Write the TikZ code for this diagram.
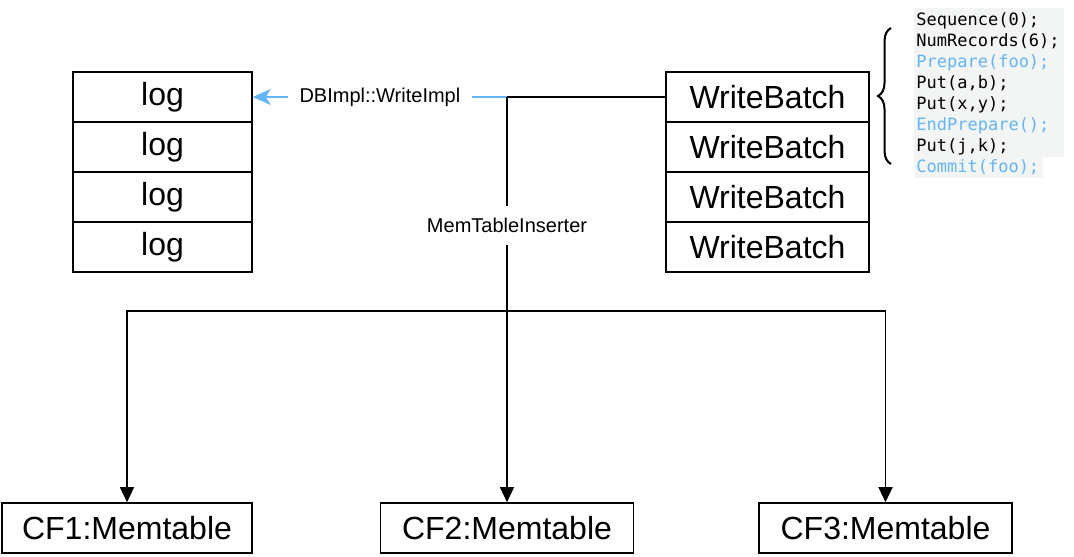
\documentclass[tikz,border=0pt]{standalone}
\usepackage{fontspec}
\setmainfont{Liberation Sans}
\setmonofont{DejaVu Sans Mono}
\usepackage{tikz}
\usetikzlibrary{arrows.meta}
\usetikzlibrary{decorations.pathreplacing}
\definecolor{lightblue}{RGB}{100,181,246}
\definecolor{codebg}{RGB}{243,244,244}

\begin{document}
\begin{tikzpicture}[x=0.5pt,y=-0.5pt,
  box/.style={draw, line width=0.8pt, minimum height=25pt, inner sep=0pt, font=\fontsize{16}{19}\selectfont},
  tag/.style={fill=white, inner sep=6pt, font=\fontsize{10}{12}\selectfont}]
\useasboundingbox (0,0) rectangle (1074,556);
\foreach \i in {1,...,4} {
  \node[box, minimum width=89.5pt] (log\i) at (162.5, 47+50*\i) {log};
  \node[box, minimum width=101.5pt] (wb\i) at (767.5, 47+50*\i) {WriteBatch};
}
\node[box, minimum width=125pt] (cf1) at (127,528) {CF1:Memtable};
\node[box, minimum width=126.5pt] (cf2) at (507,528) {CF2:Memtable};
\node[box, minimum width=126.5pt] (cf3) at (885.5,528) {CF3:Memtable};
\coordinate (split) at (507,97);
\coordinate (fork) at (507,311);
\draw[lightblue, line width=0.8pt, -{Stealth[length=9pt,width=8pt,inset=2.5pt]}] (split) -- node[tag, text=black] {DBImpl::WriteImpl} (log1.east);
\draw[line width=0.8pt] (wb1.west) -- (split);
\draw[line width=1.2pt] (split) -- node[tag, pos=0.6] {MemTableInserter} (fork);
\foreach \c in {cf1,cf3}
  \draw[line width=0.7pt, -{Triangle[length=7.5pt,width=7pt]}] (fork) -| (\c.north);
\draw[line width=0.7pt, -{Triangle[length=7.5pt,width=7pt]}] (fork) -- (cf2.north);
\fill[codebg] (914,8) rectangle (1064,157);
\fill[codebg] (914,157) rectangle (1043,178);
\node[anchor=north west, inner sep=0pt, align=left, font=\ttfamily\fontsize{8.5}{10.5}\selectfont] (code) at (916,12)
  {Sequence(0);\\ NumRecords(6);\\ \textcolor{lightblue}{Prepare(foo);}\\ Put(a,b);\\ Put(x,y);\\
   \textcolor{lightblue}{EndPrepare();}\\ Put(j,k);\\ \textcolor{lightblue}{Commit(foo);}};
\draw[line width=1pt, decorate, decoration={brace, amplitude=6.5pt}] (891,164) -- (891,28);
\end{tikzpicture}
\end{document}
